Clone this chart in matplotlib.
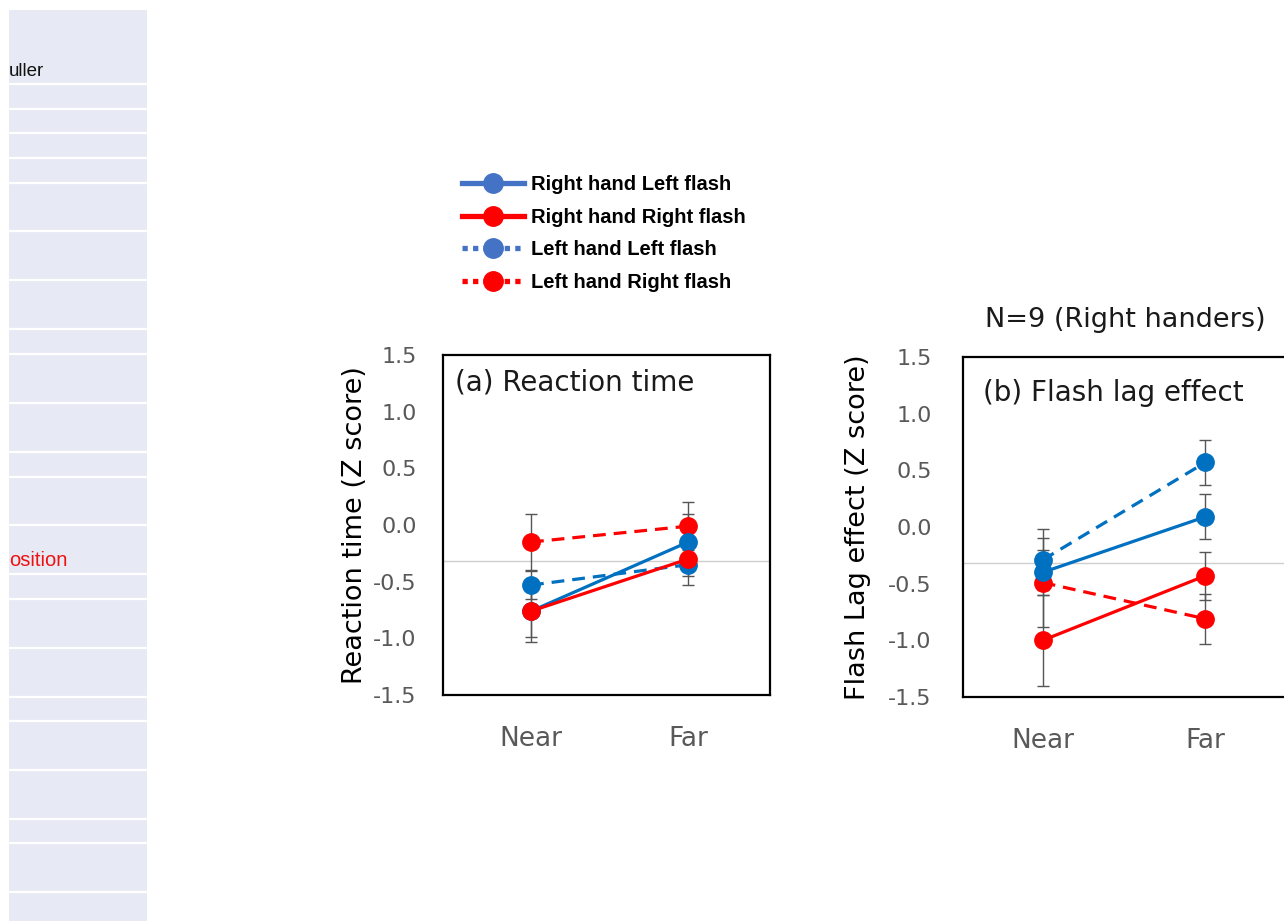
import numpy as np
from matplotlib import pyplot as plt
from matplotlib.lines import Line2D

plt.rcParams['font.family'] = ['DejaVu Sans']

conditions = ['Near', 'Far']
yticks = [-1.5, -1.0, -0.5, 0.0, 0.5, 1.0, 1.5]
ref_line = -0.32  # faint grey line across both panels

# (a) reaction time, z score (mean, error)
rt_rh_lf = [-0.76, -0.15]
rt_rh_lf_err = [0.23, 0.25]
rt_rh_rf = [-0.76, -0.30]
rt_rh_rf_err = [0.27, 0.15]
rt_lh_lf = [-0.53, -0.35]
rt_lh_lf_err = [0.12, 0.18]
rt_lh_rf = [-0.15, -0.01]
rt_lh_rf_err = [0.25, 0.21]

# (b) flash lag effect, z score (mean, error)
fle_rh_lf = [-0.40, 0.09]
fle_rh_lf_err = [0.20, 0.20]
fle_rh_rf = [-1.00, -0.43]
fle_rh_rf_err = [0.40, 0.21]
fle_lh_lf = [-0.29, 0.57]
fle_lh_lf_err = [0.27, 0.20]
fle_lh_rf = [-0.49, -0.81]
fle_lh_rf_err = [0.39, 0.22]

labels = ['Right hand Left flash', 'Right hand Right flash',
          'Left hand Left flash', 'Left hand Right flash']
colors = ['#0070C0', '#FF0000', '#0070C0', '#FF0000']
legend_colors = ['#4472C4', '#FF0000', '#4472C4', '#FF0000']
dashed = [False, False, True, True]
draw_order = [3, 2, 0, 1]  # which series sits on top

# sidebar strip on the left (screenshot residue)
sidebar_lines = [84, 109, 133, 158, 183, 231, 280, 329, 354, 403, 452, 477,
                 525, 574, 599, 648, 697, 721, 770, 819, 843, 892]

W, H = 1284, 921
fig = plt.figure(figsize=(W / 100, H / 100), dpi=100)

side = fig.add_axes([9 / W, 0, 138 / W, 1 - 10 / H])
side.set_xlim(0, 138)
side.set_ylim(H, 10)
side.axis('off')
side.add_patch(plt.Rectangle((0, 10), 138, H, color='#e7eaf4', zorder=0))
side.hlines(sidebar_lines, 0, 138, color='white', lw=1.6, zorder=1)
side.text(0, 72, 'uller', fontsize=13.5, family='Liberation Sans', va='center', ha='left', color='#111111')
side.text(0, 561, 'osition', fontsize=14.5, family='Liberation Sans', va='center', ha='left', color='#EE1111')


def draw_panel(ax, means, errs, title, title_xy, ylabel, ylabel_x, xlim, ypad):
    x = np.arange(len(conditions))
    ax.axhline(ref_line, color='#cfcfcf', lw=1, zorder=1)
    for i in draw_order:
        ax.errorbar(x, means[i], yerr=errs[i], fmt='none', ecolor='#555555',
                    elinewidth=1, capsize=4, capthick=1, zorder=2)
    for i in draw_order:
        ls = (0, (4, 2.5)) if dashed[i] else '-'
        ax.plot(x, means[i], color=colors[i], ls=ls, lw=2.3, marker='o',
                markersize=12.5, zorder=3 + draw_order.index(i))
    ax.set_xlim(*xlim)
    ax.set_ylim(-1.5, 1.5)
    ax.set_xticks(x)
    ax.set_xticklabels(conditions, fontsize=19, color='#595959')
    ax.set_yticks(yticks)
    ax.set_yticklabels([f'{v:.1f}' for v in yticks], fontsize=16, color='#595959')
    ax.tick_params(axis='y', length=0, pad=ypad)
    ax.tick_params(axis='x', length=0, pad=22)
    for s in ax.spines.values():
        s.set_linewidth(1.6)
        s.set_color('black')
    ax.text(title_xy[0], title_xy[1], title, transform=ax.transAxes,
            fontsize=20, ha='left', va='center', color='#1a1a1a')
    ax.text(ylabel_x, 0.5, ylabel, transform=ax.transAxes, rotation=90,
            fontsize=19.5, ha='center', va='center', color='black')


ax_a = fig.add_axes([443 / W, 1 - 695 / H, 327 / W, 340 / H])
draw_panel(ax_a, [rt_rh_lf, rt_rh_rf, rt_lh_lf, rt_lh_rf],
           [rt_rh_lf_err, rt_rh_rf_err, rt_lh_lf_err, rt_lh_rf_err],
           '(a) Reaction time', (0.037, 0.918), 'Reaction time (Z score)',
           -0.27, (-0.56, 1.52), 19)

ax_b = fig.add_axes([963 / W, 1 - 697 / H, 327 / W, 340 / H])
draw_panel(ax_b, [fle_rh_lf, fle_rh_rf, fle_lh_lf, fle_lh_rf],
           [fle_rh_lf_err, fle_rh_rf_err, fle_lh_lf_err, fle_lh_rf_err],
           '(b) Flash lag effect', (0.06, 0.894), 'Flash Lag effect (Z score)',
           -0.32, (-0.49, 1.52), 22.5)

fig.text(1125 / W, 1 - 320 / H, 'N=9 (Right handers)', fontsize=19.5,
         ha='center', va='center', color='#1a1a1a')

handles = []
for i in range(4):
    ls = (0, (1, 1)) if dashed[i] else '-'
    handles.append(Line2D([], [], color=legend_colors[i], ls=ls, lw=3.8,
                          marker='o', markersize=14, dash_capstyle='butt'))
fig.legend(handles, labels, loc='upper left', bbox_to_anchor=(462 / W, 1 - 175 / H),
           frameon=False, borderpad=0, borderaxespad=0, handlelength=3.1,
           handletextpad=0.35, labelspacing=0.68,
           prop={'family': 'Liberation Sans', 'weight': 'bold', 'size': 14.5})

fig.savefig('out.png', dpi=100, facecolor='white')
